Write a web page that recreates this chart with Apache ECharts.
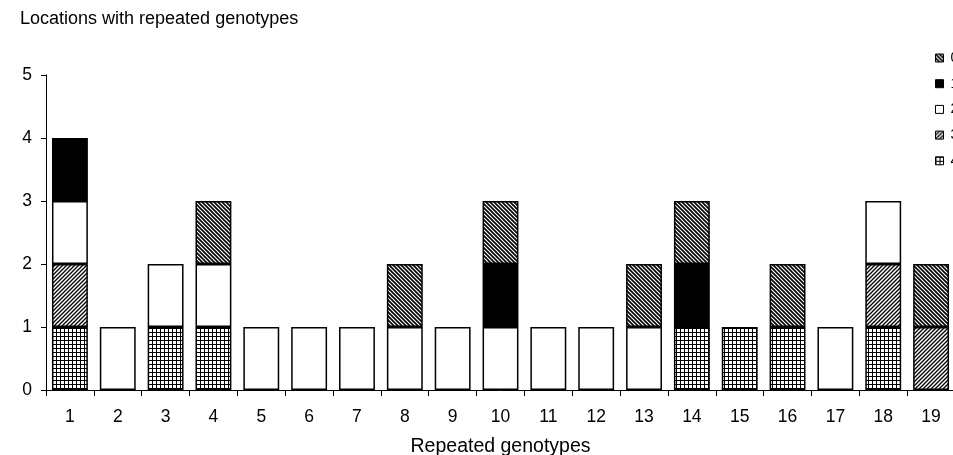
<!DOCTYPE html>
<html>
<head>
<meta charset="utf-8">
<script src="https://cdn.jsdelivr.net/npm/echarts@6/dist/echarts.min.js"></script>
<style>
html,body{margin:0;padding:0;background:#fff;}
#c{width:953px;height:455px;}
</style>
</head>
<body>
<div id="c"></div>
<script>
// ---- data ----
const categories = ['1','2','3','4','5','6','7','8','9','10','11','12','13','14','15','16','17','18','19'];
const seriesNames = ['4','3','2','1','0']; // stack order bottom -> top
const gridValues     = [1,0,1,1,0,0,0,0,0,0,0,0,0,1,1,1,0,1,0]; // '4'
const forwardValues  = [1,0,0,0,0,0,0,0,0,0,0,0,0,0,0,0,0,1,1]; // '3'
const whiteValues    = [1,1,1,1,1,1,1,1,1,1,1,1,1,0,0,0,1,1,0]; // '2'
const blackValues    = [1,0,0,0,0,0,0,0,0,1,0,0,0,1,0,0,0,0,0]; // '1'
const backValues     = [0,0,0,1,0,0,0,1,0,1,0,0,1,1,0,1,0,0,1]; // '0'
const legendOrder = ['0','1','2','3','4'];
const yTicks = [0,1,2,3,4,5];

function makePattern(type){
  const s = 4;
  const c = document.createElement('canvas');
  c.width = s; c.height = s;
  const g = c.getContext('2d');
  g.fillStyle = '#fff'; g.fillRect(0,0,s,s);
  g.strokeStyle = '#000';
  if (type === 'grid') {
    g.fillStyle = '#000';
    g.fillRect(0,0,s,1);
    g.fillRect(0,0,1,s);
  } else if (type === 'fwd') {
    g.lineWidth = 1.3;
    g.beginPath();
    g.moveTo(-1,1); g.lineTo(1,-1);
    g.moveTo(0,s); g.lineTo(s,0);
    g.moveTo(s-1,s+1); g.lineTo(s+1,s-1);
    g.stroke();
  } else if (type === 'back') {
    g.lineWidth = 1.6;
    g.beginPath();
    g.moveTo(-1,s-1); g.lineTo(1,s+1);
    g.moveTo(0,0); g.lineTo(s,s);
    g.moveTo(s-1,-1); g.lineTo(s+1,1);
    g.stroke();
  }
  return c;
}

const fills = {
  '4': {image: makePattern('grid'), repeat: 'repeat'},
  '3': {image: makePattern('fwd'), repeat: 'repeat'},
  '2': '#ffffff',
  '1': '#000000',
  '0': {image: makePattern('back'), repeat: 'repeat'}
};
const valuesByName = {'4': gridValues, '3': forwardValues, '2': whiteValues, '1': blackValues, '0': backValues};

const FONT = 'Liberation Sans, Arial, sans-serif';

const series = seriesNames.map(name => ({
  name: name,
  type: 'bar',
  stack: 'all',
  barWidth: '75%',
  data: valuesByName[name].map(v => v === 0 ? '-' : v),
  itemStyle: {color: fills[name], borderColor: '#000', borderWidth: 1.5},
  emphasis: {disabled: true},
  animation: false
}));

const chart = echarts.init(document.getElementById('c'), null, {renderer: 'canvas'});
chart.setOption({
  animation: false,
  backgroundColor: '#fff',
  title: {
    text: 'Locations with repeated genotypes',
    left: 20, top: 10, padding: 0,
    textStyle: {fontFamily: FONT, fontSize: 18, fontWeight: 'normal', color: '#000'}
  },
  legend: {
    orient: 'vertical',
    left: 935, top: 51, padding: 0,
    itemWidth: 8, itemHeight: 8,
    itemGap: 11.7,
    icon: 'rect',
    itemStyle: {borderColor: '#000', borderWidth: 1},
    data: legendOrder,
    textStyle: {fontFamily: FONT, fontSize: 14, color: '#000', padding: [0, 0, 0, 2]},
    selectedMode: false
  },
  grid: {left: 46, top: 75, width: 909, height: 315, outerBoundsMode: 'none', containLabel: false},
  xAxis: {
    type: 'category',
    data: categories,
    name: 'Repeated genotypes',
    nameLocation: 'middle',
    nameGap: 47,
    nameTextStyle: {fontFamily: FONT, fontSize: 19.5, color: '#000'},
    axisLine: {lineStyle: {color: '#000', width: 1}},
    axisTick: {show: true, length: 6, lineStyle: {color: '#000'}},
    axisLabel: {fontFamily: FONT, fontSize: 17.5, color: '#000', margin: 18}
  },
  yAxis: {
    type: 'value',
    min: yTicks[0], max: yTicks[yTicks.length-1], interval: 1,
    axisLine: {show: true, lineStyle: {color: '#000', width: 1}},
    axisTick: {show: true, length: 5, lineStyle: {color: '#000'}},
    splitLine: {show: false},
    axisLabel: {fontFamily: FONT, fontSize: 17.5, color: '#000', margin: 14}
  },
  series: series
});
</script>
</body>
</html>
